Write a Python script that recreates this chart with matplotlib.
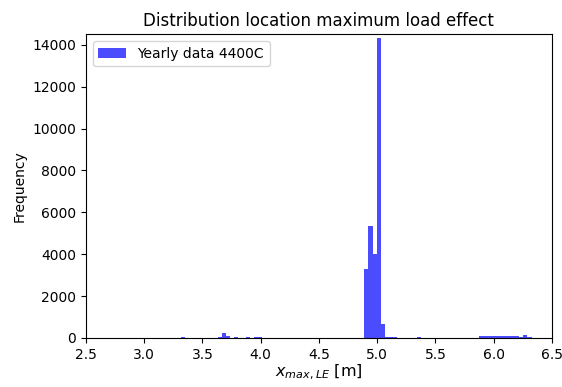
import matplotlib
matplotlib.use("Agg")
import matplotlib.pyplot as plt
import numpy as np

# histogram: bin centre [m] and count
centres = [3.333, 3.648, 3.683, 3.718, 3.788, 3.893, 3.963, 3.998,
           4.908, 4.943, 4.978, 5.013, 5.048, 5.083, 5.118, 5.153,
           5.363,
           5.888, 5.923, 5.958, 5.993, 6.028, 6.063, 6.098, 6.133, 6.168, 6.203,
           6.238, 6.273, 6.308]
counts = [40, 40, 250, 110, 50, 40, 30, 50,
          3300, 5350, 4000, 14320, 670, 60, 50, 40,
          60,
          90, 100, 110, 100, 110, 100, 110, 100, 110, 90,
          50, 130, 60]
bin_edges = np.arange(3.28, 6.36, 0.035)

fig = plt.figure(figsize=(5.62, 3.87), dpi=100)
ax = fig.add_axes([0.153, 0.127, 0.829, 0.784])

ax.hist(centres, bins=bin_edges, weights=counts, color='blue', alpha=0.7,
        label='Yearly data 4400C')
ax.set_xlim(2.5, 6.5)
ax.set_ylim(0, 14500)
ax.set_xticks(np.arange(2.5, 6.51, 0.5))
ax.set_yticks(np.arange(0, 14001, 2000))
ax.set_title('Distribution location maximum load effect')
ax.set_xlabel('$x_{max,LE}$ [m]', fontsize=11.5, labelpad=1)
ax.set_ylabel('Frequency')
ax.legend(loc='upper left')

fig.savefig('out.png', dpi=100)
